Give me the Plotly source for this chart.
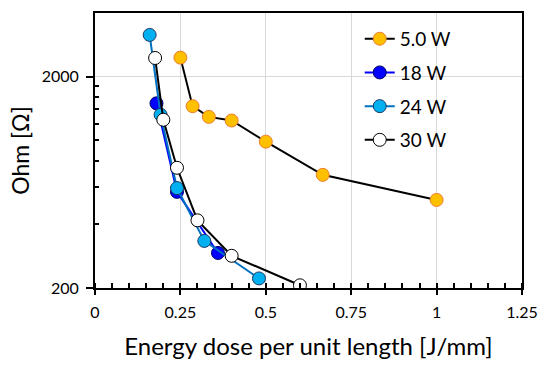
import plotly.graph_objects as go

# Data
x_5w = [0.25, 0.2857, 0.3333, 0.40, 0.50, 0.6667, 1.00]
y_5w = [2460, 1450, 1290, 1240, 985, 686, 522]

x_18w = [0.18, 0.24, 0.36]
y_18w = [1495, 570, 293]

x_24w = [0.16, 0.192, 0.24, 0.32, 0.48]
y_24w = [3150, 1320, 594, 334, 222]

x_30w = [0.176, 0.20, 0.24, 0.30, 0.40, 0.60]
y_30w = [2450, 1250, 741, 418, 284, 206]

x_ticks = [0, 0.25, 0.5, 0.75, 1.0, 1.25]
x_ticktext = ["0", "0.25", "0.5", "0.75", "1", "1.25"]
y_ticks = [200, 2000]
y_minor = [400, 600, 800, 1000, 1200, 1400, 1600, 1800]

FONT = "Lato"

series = [
    ("5.0 W", x_5w, y_5w, "black", "#FFC000", "#ED7D31"),
    ("18 W", x_18w, y_18w, "#0000FF", "#0000FF", "#000066"),
    ("24 W", x_24w, y_24w, "#0070C0", "#00B0F0", "#1F3864"),
    ("30 W", x_30w, y_30w, "black", "white", "black"),
]

fig = go.Figure()
for i, (name, xs, ys, lc, fc, mc) in enumerate(series):
    fig.add_trace(go.Scatter(
        x=xs, y=ys, name=name, mode="lines+markers",
        legendgroup=f"g{i}",
        line=dict(color=lc, width=2),
        marker=dict(size=13, color=fc, line=dict(color=mc, width=1)),
    ))

fig.update_layout(
    width=550, height=369,
    margin=dict(l=95, r=28, t=11, b=81),
    paper_bgcolor="white", plot_bgcolor="white",
    font=dict(family=FONT, size=16, color="black"),
    showlegend=True,
    legend=dict(x=0.62, y=0.975, xanchor="left", yanchor="top",
                bgcolor="rgba(0,0,0,0)", font=dict(family=FONT, size=19),
                tracegroupgap=6, traceorder="grouped"),
    xaxis=dict(
        range=[0, 1.25], tickvals=x_ticks, ticktext=x_ticktext,
        showgrid=True, gridcolor="#D9D9D9", gridwidth=1,
        showline=True, linecolor="black", linewidth=2, mirror=True,
        ticks="outside", ticklen=5, tickwidth=1.5, tickcolor="black",
        minor=dict(dtick=0.05, ticks="inside", ticklen=5, tickwidth=1.5,
                   tickcolor="black", showgrid=False),
        tickfont=dict(size=16), ticklabelstandoff=4,
        title=dict(text="Energy dose per unit length [J/mm]",
                   font=dict(size=24), standoff=18),
        zeroline=False,
    ),
    yaxis=dict(
        type="log", range=[2.30103, 3.602],
        tickvals=y_ticks, ticktext=["200", "2000"],
        showgrid=True, gridcolor="#D9D9D9", gridwidth=1,
        showline=True, linecolor="black", linewidth=2, mirror=True,
        ticks="outside", ticklen=7, tickwidth=1.5, tickcolor="black",
        minor=dict(tickvals=y_minor, ticks="inside", ticklen=4, tickwidth=1.5,
                   tickcolor="black", showgrid=False),
        tickfont=dict(size=16), ticklabelstandoff=4,
        title=dict(text="Ohm [Ω]", font=dict(size=23), standoff=6),
        zeroline=False,
    ),
)

fig.write_html("out.html", post_script="document.body.style.margin='0';",
               config={"displayModeBar": False})
